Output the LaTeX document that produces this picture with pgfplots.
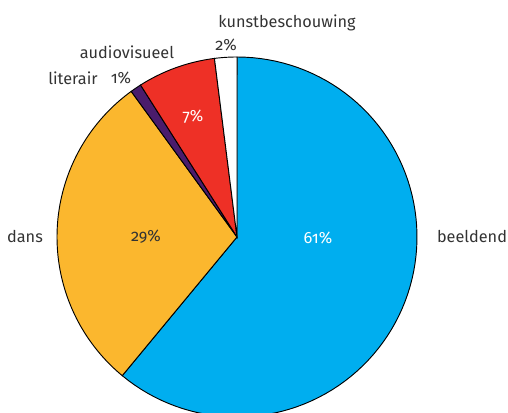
\documentclass[border=0pt]{standalone}
\usepackage{pgfplots}
\pgfplotsset{compat=1.18}
\usepackage{fontspec}
\setmainfont{Fira Sans}[Numbers=OldStyle]

\definecolor{beeldend}{HTML}{00AEEF}
\definecolor{dans}{HTML}{FBB72E}
\definecolor{literair}{HTML}{4A1C6C}
\definecolor{audiovisueel}{HTML}{EE3026}
\definecolor{kunst}{HTML}{FFFFFF}
\definecolor{txt}{HTML}{333333}

\tikzset{lbl/.style={font=\fontsize{12.2}{15}\selectfont, text=txt}}

% start (cumulative %), share (%), colour
\newcommand{\slice}[3]{%
  \pgfmathsetmacro\angA{90-3.6*(#1)}%
  \pgfmathsetmacro\angB{90-3.6*(#1+#2)}%
  \edef\doslice{\noexpand\addplot[fill=#3, draw=black, line width=0.7pt,
    domain=\angB:\angA, samples=90]}%
  \doslice ({237+180*cos(x)},{-237+180*sin(x)}) -- (axis cs:237,-237) -- cycle;
}

\begin{document}
\begin{tikzpicture}
\begin{axis}[
    scale only axis,
    width=381pt, height=309.75pt,
    xmin=0, xmax=508, ymin=-413, ymax=0,
    hide axis,
    clip=true,
]
  % shares: beeldend 61, dans 29, literair 1, audiovisueel 7, kunstbeschouwing 2
  \slice{0}{61}{beeldend}
  \slice{61}{29}{dans}
  \slice{90}{1}{literair}
  \slice{91}{7}{audiovisueel}
  \slice{98}{2}{kunst}

  \node[lbl, text=white] at (axis cs:318,-238) {61\%};
  \node[lbl] at (axis cs:146,-237) {29\%};
  \node[lbl, text=white] at (axis cs:193,-117) {7\%};
  \node[lbl] at (axis cs:226,-45) {2\%};
  \node[lbl] at (axis cs:121,-78) {1\%};

  \node[lbl] at (axis cs:472,-237) {beeldend};
  \node[lbl] at (axis cs:25,-237) {dans};
  \node[lbl] at (axis cs:73,-78) {literair};
  \node[lbl] at (axis cs:127,-52) {audiovisueel};
  \node[lbl] at (axis cs:287,-23) {kunstbeschouwing};
\end{axis}
\pgfresetboundingbox
\useasboundingbox (current axis.south west) rectangle (current axis.north east);
\end{tikzpicture}
\end{document}
